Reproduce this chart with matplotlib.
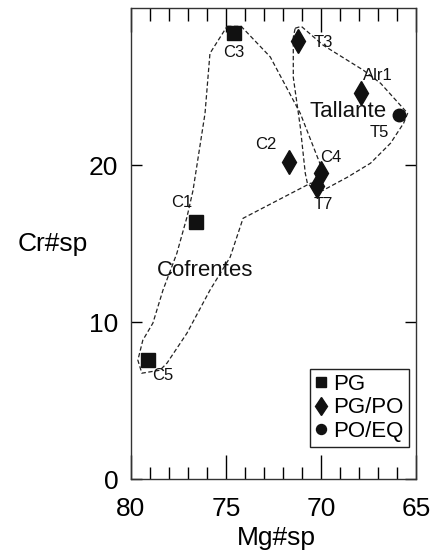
import matplotlib.pyplot as plt
from matplotlib.ticker import MultipleLocator

plt.rcParams['font.family'] = ['Liberation Sans', 'DejaVu Sans']

# sample groups (Mg#sp, Cr#sp)
pg_x = [74.6, 76.6, 79.1]
pg_y = [28.4, 16.4, 7.6]
pgpo_x = [71.2, 67.9, 71.7, 70.0, 70.2]
pgpo_y = [27.9, 24.6, 20.2, 19.5, 18.7]
poeq_x = [65.9]
poeq_y = [23.2]

# sample labels and positions
label_text = ['C3', 'T3', 'Alr1', 'T5', 'C2', 'C4', 'T7', 'C1', 'C5']
label_x = [74.57, 69.9, 67.0, 66.95, 72.88, 69.5, 69.88, 77.31, 78.3]
label_y = [27.2, 27.8, 25.7, 22.1, 21.3, 20.5, 17.5, 17.6, 6.6]

# field outlines
cof_x = [74.94, 74.2, 72.67, 71.09, 69.88, 70.14, 70.56, 74.1, 74.78, 75.84,
         77.05, 78.1, 78.47, 79.42, 79.63, 79.37, 78.84, 78.31, 77.58, 77.05,
         76.73, 76.1, 75.84, 74.94]
cof_y = [28.85, 28.85, 26.9, 23.3, 19.55, 18.9, 18.85, 16.62, 14.14, 12.04,
         9.3, 7.39, 6.94, 6.75, 7.58, 8.85, 9.94, 12.04, 14.39, 16.69,
         18.4, 23.3, 27.13, 28.85]
tal_x = [71.36, 71.04, 69.88, 67.77, 66.87, 65.45, 65.66, 66.35, 67.4, 68.61,
         69.88, 70.2, 70.72, 70.83, 71.09, 71.46, 71.46, 71.36]
tal_y = [28.73, 28.85, 27.64, 26.05, 25.22, 23.31, 22.68, 21.4, 20.13, 19.24,
         18.41, 18.28, 18.85, 19.49, 22.42, 25.6, 28.15, 28.73]

fig = plt.figure(figsize=(4.48, 5.52), dpi=100)
ax = fig.add_axes([0.292, 0.132, 0.637, 0.853])

ax.plot(cof_x, cof_y, color='#222222', lw=0.9, ls=(0, (3.5, 2)))
ax.plot(tal_x, tal_y, color='#222222', lw=0.9, ls=(0, (3.5, 2)))

ax.plot(pg_x, pg_y, 's', color='#111111', ms=9.5, ls='none', label='PG')
ax.plot(pgpo_x, pgpo_y, 'd', color='#111111', ms=12, ls='none', label='PG/PO')
ax.plot(poeq_x, poeq_y, 'o', color='#111111', ms=9, ls='none', label='PO/EQ')

for t, x, y in zip(label_text, label_x, label_y):
    ax.text(x, y, t, fontsize=12, ha='center', va='center', color='#111111')

ax.text(68.6, 23.4, 'Tallante', fontsize=16, ha='center', va='center', color='#111111')
ax.text(76.1, 13.3, 'Cofrentes', fontsize=16, ha='center', va='center', color='#111111')

ax.set_xlim(80, 65)
ax.set_ylim(0, 30)
ax.xaxis.set_major_locator(MultipleLocator(5))
ax.xaxis.set_minor_locator(MultipleLocator(1))
ax.set_yticks([0, 10, 20])
ax.tick_params(axis='x', which='major', direction='in', top=True, length=17, width=1,
               labelsize=19, pad=13)
ax.tick_params(axis='x', which='minor', direction='in', top=True, length=9, width=1)
ax.tick_params(axis='y', which='major', direction='in', right=True, length=8, width=1,
               labelsize=19, pad=9)
for s in ax.spines.values():
    s.set_linewidth(1.0)
    s.set_color('#333333')

ax.set_xlabel('Mg#sp', fontsize=19, va='top')
ax.xaxis.set_label_coords(0.51, -0.1)
ax.set_ylabel('Cr#sp', fontsize=19, rotation=0, ha='center', va='center')
ax.yaxis.set_label_coords(-0.274, 0.5)

leg = ax.legend(loc='lower right', bbox_to_anchor=(0.975, 0.068), borderaxespad=0,
                fontsize=16, fancybox=False, edgecolor='#222222', framealpha=1,
                handlelength=0.5, handletextpad=0.3, labelspacing=0.1,
                borderpad=0.25, markerscale=0.8)
leg.get_frame().set_linewidth(1.0)

fig.savefig('out.png', dpi=100)
